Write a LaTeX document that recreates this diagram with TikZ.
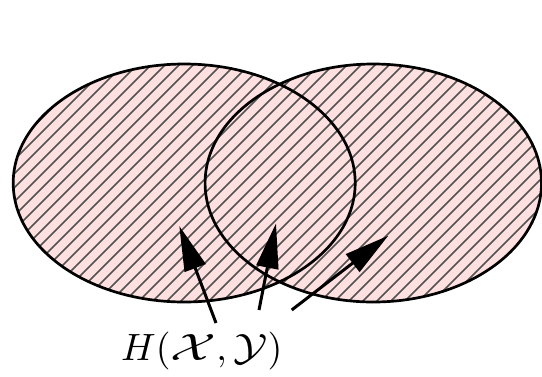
\documentclass[tikz,border=0pt]{standalone}
\usetikzlibrary{arrows.meta}
\definecolor{setpink}{RGB}{255,224,224}
\tikzset{
  setoutline/.style={draw=black, line width=2.7pt},
  hatchline/.style={draw=black!68, line width=1.5pt},
  pointer/.style={draw=black, line width=3pt, -{Triangle[length=45pt,width=22pt]}},
}
\begin{document}
\begin{tikzpicture}[x=1pt,y=-1pt]
\useasboundingbox (0,0) rectangle (542,376);
% sets
\coordinate (cL) at (184.2,183);
\coordinate (cR) at (373.3,183);
\fill[setpink] (cL) ellipse [x radius=171, y radius=119];
\fill[setpink] (cR) ellipse [x radius=168.2, y radius=119];
\begin{scope}
  \clip (cL) ellipse [x radius=171, y radius=119] (cR) ellipse [x radius=168.2, y radius=119];
  \foreach \k in {-12,...,48} {
    \pgfmathsetmacro{\c}{216+14*\k}
    \draw[hatchline] (\c-420,420) -- (\c+20,-20);
  }
\end{scope}
\draw[setoutline] (cL) ellipse [x radius=171, y radius=119];
\draw[setoutline] (cR) ellipse [x radius=168.2, y radius=119];
% label and pointers
\node[anchor=base west, inner sep=0pt] (lab) at (121,360)
  {\scalebox{3.8}{$H(\scalebox{1.4}[1]{$\mathcal{X}$},\scalebox{1.2}[1]{$\mathcal{Y}$})$}};
\coordinate (t1) at (216,323);
\coordinate (t2) at (259,310);
\coordinate (t3) at (291.7,310);
\coordinate (h1) at (179.3,226);
\coordinate (h2) at (276,223.3);
\coordinate (h3) at (388.3,235.7);
\draw[pointer] (t1) -- (h1);
\draw[pointer] (t2) -- (h2);
\draw[pointer] (t3) -- (h3);
\end{tikzpicture}
\end{document}
